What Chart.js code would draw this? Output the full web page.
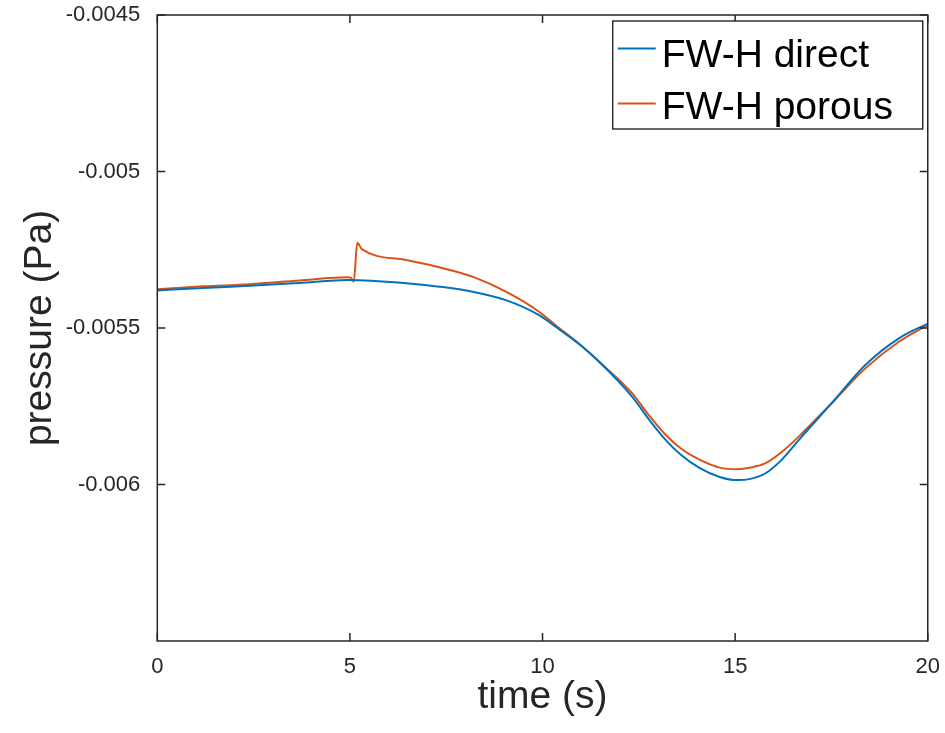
<!DOCTYPE html>
<html>
<head>
<meta charset="utf-8">
<script src="https://cdn.jsdelivr.net/npm/chart.js@4/dist/chart.umd.min.js"></script>
<style>
  html, body { margin: 0; padding: 0; background: #fff; }
  canvas { display: block; }
</style>
</head>
<body>
<canvas id="pressureChart" width="945" height="733"></canvas>
<script>
// FW-H direct vs porous surface: pressure at the observer over time

const directTime = [0, 1.2, 2.4, 3.7, 4.95, 6.46, 7.32, 8.18, 9.05, 9.91, 10.34, 11.0, 11.47, 12.33, 12.75, 13.2, 13.6, 14.06, 14.6, 15.05, 15.4, 15.79, 16.2, 16.65, 17.5, 18.38, 19.25, 20];
const directPressure = [-0.005380, -0.005372, -0.005365, -0.005356, -0.005347, -0.005357, -0.005368, -0.005384, -0.005411, -0.005459, -0.005496, -0.005556, -0.005608, -0.005720, -0.005790, -0.005858, -0.005906, -0.005946, -0.005976, -0.005986, -0.005982, -0.005964, -0.005922, -0.005858, -0.005741, -0.005618, -0.005533, -0.005486];

const porousTime = [0, 1.2, 2.4, 3.7, 4.95, 5.02, 5.1, 5.19, 5.31, 6.46, 7.32, 8.18, 9.05, 9.91, 10.34, 11.0, 11.47, 12.33, 12.75, 13.2, 13.6, 14.06, 14.6, 15.05, 15.4, 15.79, 16.2, 16.65, 17.5, 18.38, 19.25, 20];
const porousPressure = [-0.005376, -0.005367, -0.005360, -0.005348, -0.005338, -0.005339, -0.005352, -0.005228, -0.005248, -0.005283, -0.005306, -0.005336, -0.005384, -0.005448, -0.005491, -0.005556, -0.005608, -0.005709, -0.005777, -0.005842, -0.005886, -0.005920, -0.005946, -0.005951, -0.005946, -0.005932, -0.005897, -0.005847, -0.005741, -0.005629, -0.005544, -0.005490];

const seriesLabels = ['FW-H direct', 'FW-H porous'];
const yTicks = [-0.0045, -0.005, -0.0055, -0.006];

const axisColor = '#262626';
const tickFont = { family: 'Liberation Sans, Arial, sans-serif', size: 22 };
const titleFont = { family: 'Liberation Sans, Arial, sans-serif', size: 39 };

// matlab style box: frame, inward ticks on all four sides, boxed legend
const boxPlugin = {
  id: 'boxPlugin',
  afterDraw(chart) {
    const { ctx, chartArea: a, scales: { x, y } } = chart;
    const tl = 8;
    ctx.save();
    ctx.strokeStyle = axisColor;
    ctx.lineWidth = 1.5;
    ctx.strokeRect(a.left, a.top, a.right - a.left, a.bottom - a.top);
    ctx.beginPath();
    x.ticks.forEach(t => {
      const px = x.getPixelForValue(t.value);
      ctx.moveTo(px, a.bottom); ctx.lineTo(px, a.bottom - tl);
      ctx.moveTo(px, a.top); ctx.lineTo(px, a.top + tl);
    });
    y.ticks.forEach(t => {
      const py = y.getPixelForValue(t.value);
      ctx.moveTo(a.left, py); ctx.lineTo(a.left + tl, py);
      ctx.moveTo(a.right, py); ctx.lineTo(a.right - tl, py);
    });
    ctx.stroke();

    // legend
    const bw = 310, bh = 108;
    const bx = a.right - 5 - bw, by = a.top + 6;
    ctx.fillStyle = '#fff';
    ctx.fillRect(bx, by, bw, bh);
    ctx.strokeStyle = '#000';
    ctx.lineWidth = 1.2;
    ctx.strokeRect(bx, by, bw, bh);
    const rows = [{ line: 27.6, text: 46 }, { line: 82.6, text: 97.6 }];
    chart.data.datasets.forEach((ds, i) => {
      ctx.strokeStyle = ds.borderColor;
      ctx.lineWidth = 2;
      ctx.beginPath();
      ctx.moveTo(bx + 5, by + rows[i].line);
      ctx.lineTo(bx + 43, by + rows[i].line);
      ctx.stroke();
      ctx.fillStyle = '#000';
      ctx.font = '39px Liberation Sans, Arial, sans-serif';
      ctx.textBaseline = 'alphabetic';
      ctx.fillText(ds.label, bx + 49, by + rows[i].text);
    });
    ctx.restore();
  }
};

new Chart(document.getElementById('pressureChart'), {
  type: 'line',
  data: {
    datasets: [{
      label: seriesLabels[0],
      data: directTime.map((t, i) => ({ x: t, y: directPressure[i] })),
      borderColor: '#0072BD',
      borderWidth: 2,
      pointRadius: 0,
      cubicInterpolationMode: 'monotone',
      fill: false
    }, {
      label: seriesLabels[1],
      data: porousTime.map((t, i) => ({ x: t, y: porousPressure[i] })),
      borderColor: '#D95319',
      borderWidth: 2,
      pointRadius: 0,
      cubicInterpolationMode: 'monotone',
      fill: false
    }]
  },
  options: {
    responsive: false,
    animation: false,
    layout: { padding: { top: 15, right: 12.3, left: 0, bottom: 0 } },
    plugins: { legend: { display: false }, tooltip: { enabled: false } },
    scales: {
      x: {
        type: 'linear',
        min: 0,
        max: 20,
        ticks: { stepSize: 5, font: tickFont, color: axisColor, padding: 5, maxRotation: 0 },
        grid: { display: false },
        border: { display: false },
        title: { display: true, text: 'time (s)', font: titleFont, color: axisColor, padding: { top: 0, bottom: 12 } },
        afterFit(s) { s.height = 92; }
      },
      y: {
        type: 'linear',
        min: -0.0065,
        max: -0.0045,
        afterBuildTicks(s) { s.ticks = yTicks.map(v => ({ value: v })); },
        ticks: { font: tickFont, color: axisColor, padding: 9, callback: v => String(v) },
        grid: { display: false },
        border: { display: false },
        title: { display: true, text: 'pressure (Pa)', font: titleFont, color: axisColor, padding: { top: 17, bottom: 0 } },
        afterFit(s) { s.width = 157.3; s.paddingTop = 0; s.paddingBottom = 0; }
      }
    }
  },
  plugins: [boxPlugin]
});
</script>
</body>
</html>
